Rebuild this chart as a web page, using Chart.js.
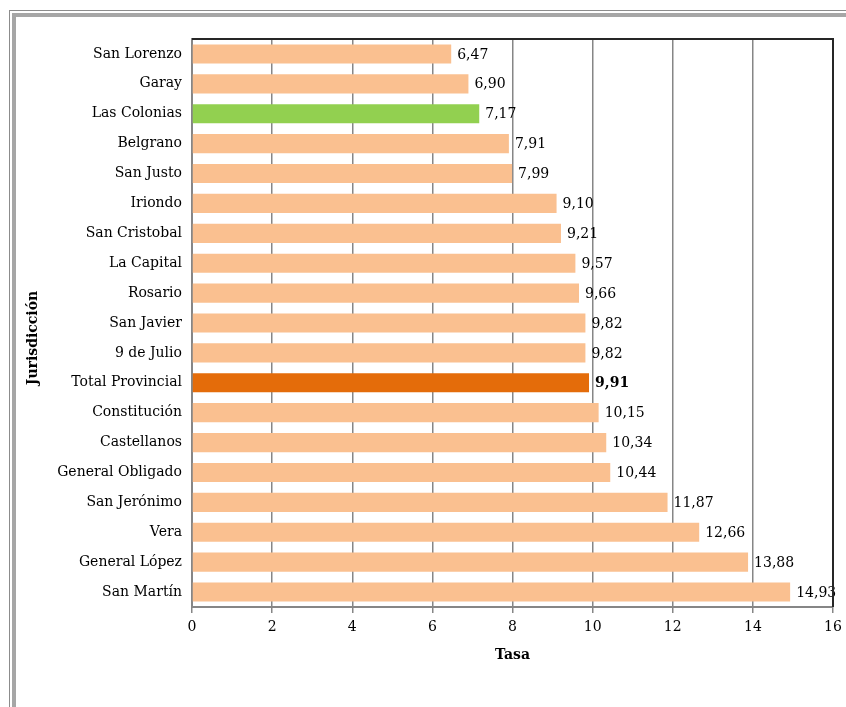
<!DOCTYPE html>
<html>
<head>
<meta charset="utf-8">
<script src="https://cdn.jsdelivr.net/npm/chart.js@4"></script>
<style>
html,body{margin:0;padding:0;background:#fff;}
#wrap{position:relative;width:846px;height:707px;overflow:hidden;}
#frame1{position:absolute;left:9px;top:10px;width:900px;height:800px;border-top:1px solid #8c8c8c;border-left:1px solid #8c8c8c;}
#frame2{position:absolute;left:12px;top:13px;width:900px;height:800px;border-top:4px solid #a6a6a6;border-left:4px solid #a6a6a6;}
canvas{position:absolute;left:0;top:0;}
</style>
</head>
<body>
<div id="wrap">
<div id="frame1"></div>
<div id="frame2"></div>
<canvas id="c" width="846" height="707"></canvas>
</div>
<script>
const categories = ["San Lorenzo","Garay","Las Colonias","Belgrano","San Justo","Iriondo","San Cristobal","La Capital","Rosario","San Javier","9 de Julio","Total Provincial","Constitución","Castellanos","General Obligado","San Jerónimo","Vera","General López","San Martín"];
const values = [6.47,6.90,7.17,7.91,7.99,9.10,9.21,9.57,9.66,9.82,9.82,9.91,10.15,10.34,10.44,11.87,12.66,13.88,14.93];
const xTicks = [0,2,4,6,8,10,12,14,16];
const highlightGreen = "Las Colonias";
const highlightTotal = "Total Provincial";

const FONT = "'DejaVu Serif', serif";
const FS = 14;
const colors = categories.map(c => c === highlightGreen ? '#92D050' : (c === highlightTotal ? '#E46C0A' : '#FAC090'));

const labelPlugin = {
  id: 'valueLabels',
  afterDatasetsDraw(chart) {
    const ctx = chart.ctx;
    const meta = chart.getDatasetMeta(0);
    ctx.save();
    ctx.fillStyle = '#000';
    ctx.textAlign = 'left';
    ctx.textBaseline = 'middle';
    meta.data.forEach((bar, i) => {
      const bold = categories[i] === highlightTotal;
      ctx.font = (bold ? 'bold ' : '') + FS + 'px ' + FONT;
      const txt = values[i].toFixed(2).replace('.', ',');
      ctx.fillText(txt, bar.x + 6, bar.y + 1);
    });
    ctx.restore();
  }
};

const borderPlugin = {
  id: 'plotBorder',
  afterDraw(chart) {
    const a = chart.chartArea;
    const ctx = chart.ctx;
    ctx.save();
    ctx.strokeStyle = '#262626';
    ctx.lineWidth = 2;
    ctx.beginPath();
    ctx.moveTo(a.left, a.top);
    ctx.lineTo(a.right, a.top);
    ctx.lineTo(a.right, a.bottom);
    ctx.stroke();
    // y axis title
    ctx.fillStyle = '#000';
    ctx.font = 'bold ' + FS + 'px ' + FONT;
    ctx.textAlign = 'center';
    ctx.textBaseline = 'middle';
    ctx.translate(33, 338);
    ctx.rotate(-Math.PI / 2);
    ctx.fillText('Jurisdicción', 0, 0);
    ctx.restore();
  }
};

new Chart(document.getElementById('c'), {
  type: 'bar',
  data: {
    labels: categories,
    datasets: [{
      data: values,
      backgroundColor: colors,
      borderWidth: 0,
      categoryPercentage: 1,
      barPercentage: 0.64
    }]
  },
  options: {
    indexAxis: 'y',
    responsive: false,
    animation: false,
    devicePixelRatio: 1,
    layout: { padding: { left: 20, right: 13, top: 39, bottom: 43 } },
    plugins: { legend: { display: false }, tooltip: { enabled: false } },
    scales: {
      x: {
        min: 0, max: 16,
        afterBuildTicks(scale) { scale.ticks = xTicks.map(v => ({ value: v })); },
        grid: { color: '#868686', lineWidth: 1.5, tickLength: 6, tickColor: '#868686' },
        border: { display: true, color: '#868686', width: 2 },
        ticks: { color: '#000', font: { family: FONT, size: FS }, padding: 6 },
        title: { display: true, text: 'Tasa', color: '#000', font: { family: FONT, size: FS, weight: 'bold' }, padding: { top: 4, bottom: 0 } },
        afterFit(scale) { scale.height = 57; scale.paddingRight = 0; scale.paddingLeft = 0; }
      },
      y: {
        grid: { display: false, drawTicks: false },
        border: { display: true, color: '#868686', width: 2 },
        ticks: { color: '#000', font: { family: FONT, size: FS }, padding: 10, autoSkip: false },
        afterFit(scale) { scale.width = 172; scale.paddingTop = 0; scale.paddingBottom = 0; }
      }
    }
  },
  plugins: [labelPlugin, borderPlugin]
});
</script>
</body>
</html>
